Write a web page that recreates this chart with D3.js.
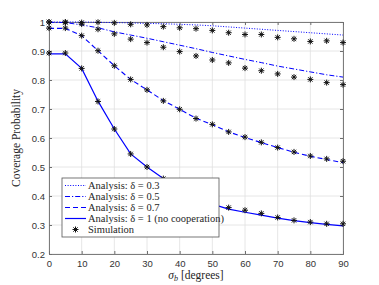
<!DOCTYPE html>
<html>
<head>
<meta charset="utf-8">
<script src="https://cdn.jsdelivr.net/npm/d3@7"></script>
<style>
  body { margin: 0; background: #fff; }
  svg text { fill: #262626; }
</style>
</head>
<body>
<div id="canvas"></div>
<script>
// sigma_b in degrees
const sigma = [0, 5, 10, 15, 20, 25, 30, 35, 40, 45, 50, 55, 60, 65, 70, 75, 80, 85, 90];

// analysis curves
const ana03 = [1.0, 1.0, 1.0, 0.999, 0.998, 0.997, 0.995, 0.994, 0.992, 0.99, 0.987, 0.983, 0.979, 0.975, 0.971, 0.967, 0.963, 0.959, 0.955];
const ana05 = [0.999, 0.998, 0.99, 0.98, 0.966, 0.955, 0.944, 0.932, 0.92, 0.908, 0.895, 0.883, 0.871, 0.86, 0.848, 0.838, 0.828, 0.818, 0.81];
const ana07 = [0.978, 0.978, 0.953, 0.901, 0.849, 0.802, 0.766, 0.729, 0.699, 0.668, 0.646, 0.621, 0.602, 0.584, 0.567, 0.551, 0.537, 0.526, 0.515];
const ana10 = [0.89, 0.89, 0.84, 0.727, 0.631, 0.545, 0.5, 0.46, 0.425, 0.395, 0.372, 0.355, 0.344, 0.334, 0.324, 0.315, 0.308, 0.302, 0.297];

// simulation points
const sim03 = [1.0, 1.0, 0.998, 0.999, 0.997, 0.992, 0.99, 0.984, 0.98, 0.977, 0.971, 0.963, 0.957, 0.957, 0.947, 0.942, 0.933, 0.935, 0.929];
const sim05 = [1.0, 0.998, 0.993, 0.975, 0.959, 0.941, 0.929, 0.913, 0.898, 0.883, 0.869, 0.859, 0.841, 0.832, 0.821, 0.81, 0.802, 0.791, 0.784];
const sim07 = [0.979, 0.979, 0.953, 0.901, 0.849, 0.802, 0.766, 0.728, 0.699, 0.667, 0.647, 0.621, 0.603, 0.585, 0.567, 0.552, 0.538, 0.528, 0.52];
const sim10 = [0.893, 0.893, 0.84, 0.726, 0.631, 0.545, 0.5, 0.46, 0.425, 0.395, 0.372, 0.36, 0.351, 0.34, 0.326, 0.316, 0.31, 0.304, 0.304];

const xTicks = [0, 10, 20, 30, 40, 50, 60, 70, 80, 90];
const yTicks = [0.2, 0.3, 0.4, 0.5, 0.6, 0.7, 0.8, 0.9, 1];

const series = [
  { label: "Analysis: \u03b4 = 0.3", vals: ana03, dash: "1,1.6", w: 1 },
  { label: "Analysis: \u03b4 = 0.5", vals: ana05, dash: "5,2,1.2,2", w: 1 },
  { label: "Analysis: \u03b4 = 0.7", vals: ana07, dash: "5,3", w: 1.1 },
  { label: "Analysis: \u03b4 = 1 (no cooperation)", vals: ana10, dash: null, w: 1.2 }
];
const sims = [sim03, sim05, sim07, sim10];

const SERIF = "'Liberation Serif', 'Times New Roman', serif";

const width = 379, height = 285;
const margin = { top: 22, left: 49, bottom: 31, right: 36 };
const iwidth = width - margin.left - margin.right;
const iheight = height - margin.top - margin.bottom;

const svg = d3.select("#canvas").append("svg")
  .attr("width", width).attr("height", height);

const g = svg.append("g").attr("transform", `translate(${margin.left},${margin.top})`);

const x = d3.scaleLinear().domain([0, 90]).range([0, iwidth]);
const y = d3.scaleLinear().domain([0.2, 1]).range([iheight, 0]);

// grid
g.append("g").selectAll("line").data(xTicks).enter().append("line")
  .attr("x1", d => x(d)).attr("x2", d => x(d))
  .attr("y1", 0).attr("y2", iheight)
  .style("stroke", "#e0e0e0").style("stroke-width", 0.8);
g.append("g").selectAll("line").data(yTicks).enter().append("line")
  .attr("y1", d => y(d)).attr("y2", d => y(d))
  .attr("x1", 0).attr("x2", iwidth)
  .style("stroke", "#e0e0e0").style("stroke-width", 0.8);

// axes
g.append("g").attr("transform", `translate(0,${iheight})`)
  .call(d3.axisBottom(x).tickValues(xTicks).tickSize(-3).tickPadding(6));
g.append("g")
  .call(d3.axisLeft(y).tickValues(yTicks).tickSize(-3).tickPadding(4).tickFormat(d => d === 1 ? "1" : d3.format(".1f")(d)));
g.append("g").attr("transform", `translate(${iwidth},0)`)
  .call(d3.axisRight(y).tickValues(yTicks).tickSize(-3).tickFormat(""));
g.append("g")
  .call(d3.axisTop(x).tickValues(xTicks).tickSize(-3).tickFormat(""));
g.selectAll(".domain").style("stroke", "#6e6e6e").style("stroke-width", 0.9);
g.selectAll(".tick line").style("stroke", "#6e6e6e");
g.selectAll(".tick text").style("font-family", "Liberation Sans, Arial, sans-serif")
  .style("font-size", "9.5px").style("fill", "#333");

// lines
const line = d3.line().x((d, i) => x(sigma[i])).y(d => y(d));
series.forEach(s => {
  g.append("path").datum(s.vals)
    .attr("d", line)
    .style("fill", "none").style("stroke", "#0000ff")
    .style("stroke-width", s.w)
    .style("stroke-dasharray", s.dash);
});

// asterisk markers
const r = 3;
const star = `M${-r},0L${r},0M0,${-r}L0,${r}M${-r * 0.72},${-r * 0.72}L${r * 0.72},${r * 0.72}M${-r * 0.72},${r * 0.72}L${r * 0.72},${-r * 0.72}`;
sims.forEach(vals => {
  g.append("g").selectAll("path").data(vals).enter().append("path")
    .attr("transform", (d, i) => `translate(${x(sigma[i])},${y(d)})`)
    .attr("d", star)
    .style("fill", "none").style("stroke", "#111").style("stroke-width", 1);
});

// legend
const lg = svg.append("g").attr("transform", "translate(62,178)");
lg.append("rect").attr("width", 157).attr("height", 59)
  .style("fill", "#fff").style("stroke", "#555").style("stroke-width", 0.8);
const rowY = d3.scaleLinear().domain([0, 4]).range([7.5, 51.5]);
series.forEach((s, i) => {
  lg.append("line").attr("x1", 3).attr("x2", 24)
    .attr("y1", rowY(i)).attr("y2", rowY(i))
    .style("stroke", "#0000ff").style("stroke-width", s.w)
    .style("stroke-dasharray", s.dash);
  lg.append("text").attr("x", 26).attr("y", rowY(i)).attr("dy", "0.35em")
    .style("font-family", SERIF).style("font-size", "10.5px")
    .text(s.label);
});
lg.append("path").attr("transform", `translate(13.5,${rowY(4)})`).attr("d", star)
  .style("fill", "none").style("stroke", "#111").style("stroke-width", 1);
lg.append("text").attr("x", 26).attr("y", rowY(4)).attr("dy", "0.35em")
  .style("font-family", SERIF).style("font-size", "10.5px")
  .text("Simulation");

// axis labels
svg.append("text")
  .attr("transform", `translate(20,${margin.top + iheight / 2}) rotate(-90)`)
  .attr("text-anchor", "middle")
  .style("font-family", SERIF).style("font-size", "11.5px")
  .text("Coverage Probability");

const xl = svg.append("text")
  .attr("x", margin.left + iwidth / 2).attr("y", 279)
  .attr("text-anchor", "middle")
  .style("font-family", SERIF).style("font-size", "11.5px");
xl.append("tspan").style("font-style", "italic").text("\u03c3");
xl.append("tspan").style("font-style", "italic").style("font-size", "8px").attr("dy", 2).text("b");
xl.append("tspan").attr("dy", -2).text(" [degrees]");
</script>
</body>
</html>
